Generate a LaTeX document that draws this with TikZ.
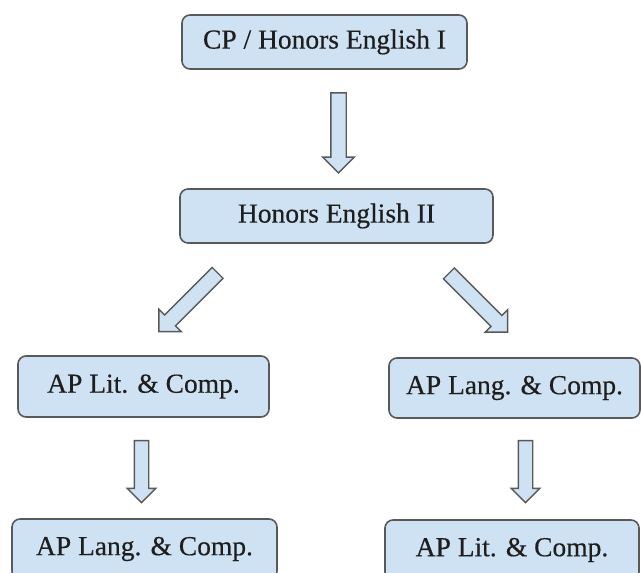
\documentclass[tikz,border=0pt]{standalone}
\usepackage{fontspec}
\setmainfont{Liberation Serif}
\usepackage{xcolor}
\usepackage{tikz}
\usetikzlibrary{shapes.arrows,positioning,calc}

\definecolor{boxblue}{HTML}{CFE2F3}
\definecolor{boxline}{HTML}{595959}
\definecolor{boxtext}{HTML}{1E1E1E}

\begin{document}
\begin{tikzpicture}[
    x=1pt, y=-1pt,
    box/.style={draw=boxline, fill=boxblue, line width=1.6pt, rounded corners=8pt,
      align=center, inner sep=0pt, text=boxtext,
      font=\fontsize{27.5}{32}\selectfont\addfontfeature{FakeBold=0.4}},
    blk/.style={single arrow, draw=boxline, fill=boxblue, line width=1.4pt,
      inner xsep=0pt, inner ysep=7pt, minimum width=0pt,
      single arrow head extend=8pt, single arrow tip angle=90}
  ]
    \useasboundingbox (0,0) rectangle (641,573);

    % course boxes
    \node[box, minimum width=285pt, minimum height=54pt] (eng1) at (324.5,42) {CP / Honors English I};
    \node[box, minimum width=313pt, minimum height=54pt] (eng2) at (336.5,216) {Honors English II};
    \node[box, minimum width=251pt, minimum height=61pt] (litA) at (143.5,386.5) {AP Lit. \& Comp.};
    \node[box, minimum width=251pt, minimum height=60pt] (langA) at (514.5,388) {AP Lang. \& Comp.};
    \node[box, minimum width=265pt, minimum height=60pt] (langB) at (144.5,549) {AP Lang. \& Comp.};
    \node[box, minimum width=254pt, minimum height=60pt] (litB) at (512,550) {AP Lit. \& Comp.};

    % block arrows
    \node[blk, minimum height=80pt, rotate=-90] (a1) at (338.5,129) {};
    \node[blk, minimum height=83pt, rotate=-135] (a2) at (191,299.5) {};
    \node[blk, minimum height=83pt, rotate=-45] (a3) at (475.5,300) {};
    \node[blk, minimum height=62pt, rotate=-90, inner ysep=6.5pt, single arrow head extend=7pt] (a4) at (141.5,468) {};
    \node[blk, minimum height=62pt, rotate=-90, inner ysep=6.5pt, single arrow head extend=7pt] (a5) at (525.5,468) {};
\end{tikzpicture}
\end{document}
